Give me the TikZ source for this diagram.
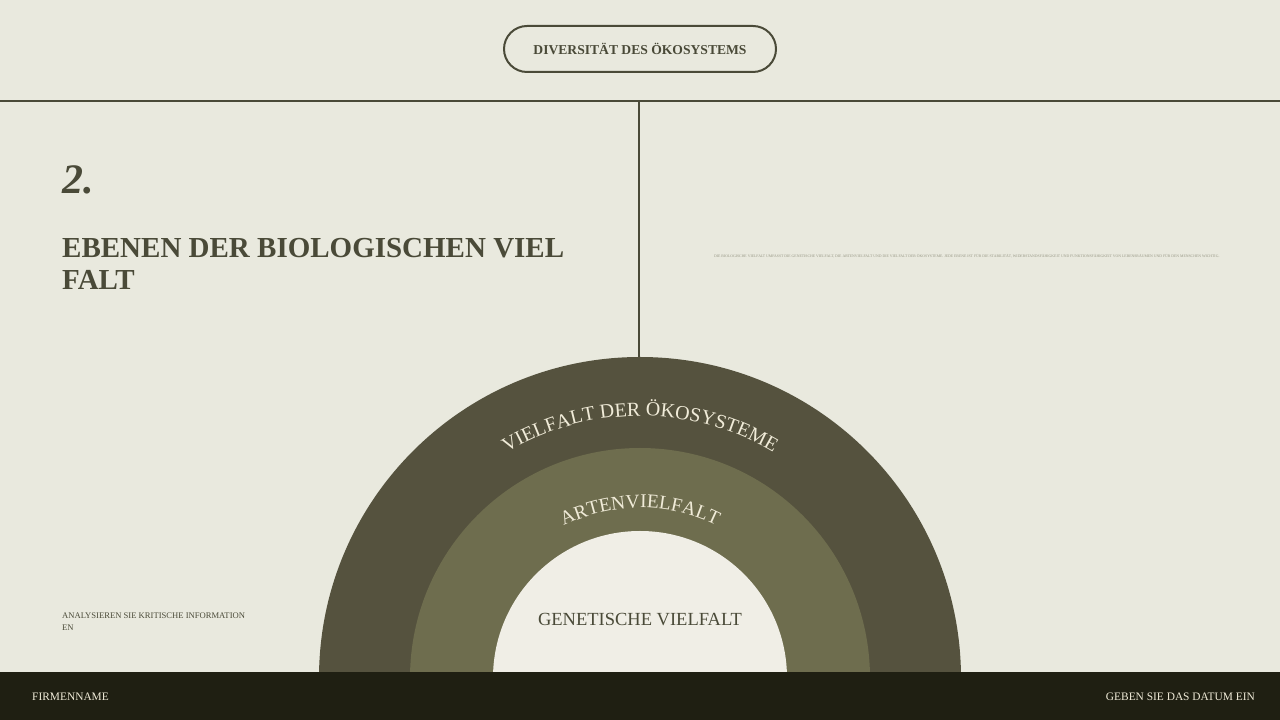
\documentclass[tikz,border=0pt]{standalone}
\usepackage{fontspec}
\setmainfont{Liberation Serif}
\usetikzlibrary{positioning,decorations.text}
\definecolor{paper}{RGB}{233,233,222}
\definecolor{ink}{RGB}{74,74,56}
\definecolor{outerring}{RGB}{85,82,62}
\definecolor{midring}{RGB}{110,109,78}
\definecolor{innerring}{RGB}{240,238,230}
\definecolor{cream}{RGB}{240,235,216}
\definecolor{footer}{RGB}{31,31,18}
\definecolor{faint}{RGB}{150,150,132}

\begin{document}
\begin{tikzpicture}[x=1pt,y=1pt,
    pill/.style={draw=ink, line width=2pt, rounded corners=23pt, minimum width=272pt, minimum height=46pt, text=ink, font=\fontsize{13.6}{14}\selectfont\bfseries},
    heading/.style={anchor=base west, text=ink, align=left, inner sep=0pt},
    foot/.style={anchor=base, text=cream, inner sep=0pt, font=\fontsize{11.4}{11.4}\selectfont}]
    \useasboundingbox (0,0) rectangle (1280,720);
    \fill[paper] (0,0) rectangle (1280,720);

    % header
    \node[pill] (title) at (640,671) {DIVERSITÄT DES ÖKOSYSTEMS};
    \coordinate (ruleL) at (0,619);
    \coordinate (ruleR) at (1280,619);
    \draw[ink, line width=2.5pt] (ruleL) -- (ruleR);

    % left column
    \node[heading, font=\fontsize{42}{42}\selectfont\bfseries\itshape] (num) at (62,526) {2.};
    \node[heading, font=\fontsize{29}{32}\selectfont\bfseries] (head) at (62,430) {EBENEN DER BIOLOGISCHEN VIEL\\FALT};
    \node[heading, font=\fontsize{8.6}{12}\selectfont] (note) at (62,89) {ANALYSIEREN SIE KRITISCHE INFORMATION\\EN};

    % right column
    \node[heading, text=faint, font=\fontsize{3.8}{4}\selectfont] (body) at (714,462) {DIE BIOLOGISCHE VIELFALT UMFASST DIE GENETISCHE VIELFALT, DIE ARTENVIELFALT UND DIE VIELFALT DER ÖKOSYSTEME. JEDE EBENE IST FÜR DIE STABILITÄT, WIDERSTANDSFÄHIGKEIT UND FUNKTIONSFÄHIGKEIT VON LEBENSRÄUMEN UND FÜR DEN MENSCHEN WICHTIG.};

    % rings
    \coordinate (hub) at (640,42);
    \fill[outerring] (hub) ++(180:321) arc[start angle=180, end angle=0, radius=321] -- cycle;
    \fill[midring] (hub) ++(180:230) arc[start angle=180, end angle=0, radius=230] -- cycle;
    \fill[innerring] (hub) ++(180:147) arc[start angle=180, end angle=0, radius=147] -- cycle;
    \coordinate (ringtop) at (639,363);
    \draw[ink, line width=2.5pt] (639,619) -- (ringtop);
    \path[decorate, decoration={text along path, text align=center,
        text={|\color{cream}\fontsize{20}{20}\selectfont|VIELFALT DER ÖKOSYSTEME}}]
        (hub) ++(160:262) arc[start angle=160, end angle=20, radius=262];
    \path[decorate, decoration={text along path, text align=center,
        text={|\color{cream}\fontsize{19.5}{19.5}\selectfont|ARTENVIELFALT}}]
        (hub) ++(150:170) arc[start angle=150, end angle=30, radius=170];
    \node[text=ink, font=\fontsize{18.5}{18.5}\selectfont] (gene) at (640,100) {GENETISCHE VIELFALT};

    % footer
    \fill[footer] (0,0) rectangle (1280,48);
    \node[foot, anchor=base west] (firm) at (32,19) {FIRMENNAME};
    \node[foot, anchor=base east] (date) at (1255,19) {GEBEN SIE DAS DATUM EIN};
\end{tikzpicture}
\end{document}
